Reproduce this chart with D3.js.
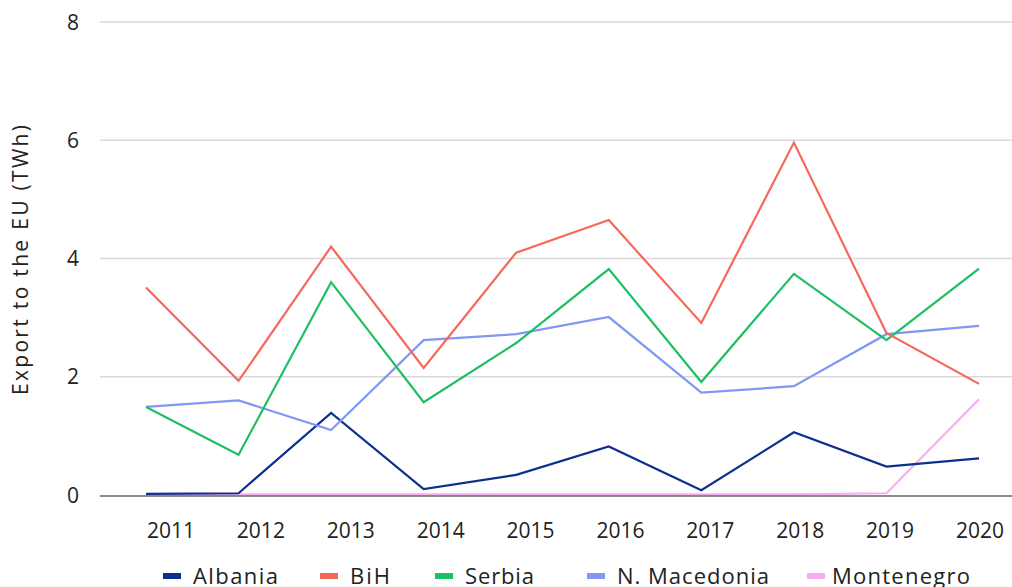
<!DOCTYPE html>
<html><head><meta charset="utf-8">
<script src="https://cdn.jsdelivr.net/npm/d3@7"></script>
<style>body{margin:0;background:#fff;}svg{display:block;font-family:"Open Sans",sans-serif;}</style>
</head><body><svg id="c" width="1012" height="587"></svg>
<script>
const years = [2011,2012,2013,2014,2015,2016,2017,2018,2019,2020];
const albania = [0.02,0.03,1.39,0.10,0.34,0.82,0.08,1.06,0.48,0.62];
const bih = [3.51,1.93,4.20,2.15,4.10,4.65,2.91,5.96,2.74,1.88];
const serbia = [1.49,0.68,3.60,1.57,2.57,3.82,1.91,3.74,2.62,3.83];
const macedonia = [1.49,1.60,1.10,2.62,2.72,3.01,1.73,1.84,2.72,2.86];
const montenegro = [0.01,0.01,0.01,0.01,0.01,0.01,0.01,0.01,0.03,1.62];
const yTicks = [0,2,4,6,8];
const seriesNames = ["Albania","BiH","Serbia","N. Macedonia","Montenegro"];
const seriesColors = ["#0f2f8f","#f4695a","#1dbf63","#8098f4","#f6aef0"];
const seriesData = [albania,bih,serbia,macedonia,montenegro];

const svg = d3.select("#c");
const x = d3.scalePoint().domain(years).range([146,979]);
const xLab = d3.scalePoint().domain(years).range([171,980]);
const y = d3.scaleLinear().domain([0,8]).range([495,22]);

// grid
svg.append("g").selectAll("line").data(yTicks.filter(d=>d>0)).join("line")
  .attr("x1",100).attr("x2",1012).attr("y1",d=>y(d)).attr("y2",d=>y(d))
  .attr("stroke","#d9d9d9").attr("stroke-width",1.5);

// y tick labels
svg.append("g").selectAll("text").data(yTicks).join("text")
  .attr("x",79).attr("y",d=>y(d)).attr("dy","0.36em").attr("text-anchor","end")
  .attr("font-size",21).attr("fill","#222").text(d=>d);

// x tick labels
svg.append("g").selectAll("text").data(years).join("text")
  .attr("x",d=>xLab(d)).attr("y",530).attr("dy","0.36em").attr("text-anchor","middle")
  .attr("font-size",21).attr("fill","#222").text(d=>d);

// y label
svg.append("text").attr("transform","translate(28,260) rotate(-90)")
  .attr("text-anchor","middle").attr("font-size",21).attr("fill","#222")
  .attr("textLength",270).attr("lengthAdjust","spacing")
  .text("Export to the EU (TWh)");

// lines
const line = d3.line().x((d,i)=>x(years[i])).y(d=>y(d));
const order = [4,0,3,2,1];
svg.append("g").selectAll("path").data(order).join("path")
  .attr("d",i=>line(seriesData[i])).attr("fill","none")
  .attr("stroke",i=>seriesColors[i]).attr("stroke-width",2.2)
  .attr("stroke-linejoin","miter");

// baseline
svg.append("line").attr("x1",100).attr("x2",1012).attr("y1",y(0)+1).attr("y2",y(0)+1)
  .attr("stroke","#666").attr("stroke-width",1.5);

// legend
const legX = [163,320,435,587,807];
const legW = [85,40,69,152,138];
const lg = svg.append("g").selectAll("g").data(seriesNames).join("g")
  .attr("transform",(d,i)=>`translate(${legX[i]},576)`);
lg.append("rect").attr("x",0).attr("y",-3).attr("width",18).attr("height",6)
  .attr("fill",(d,i)=>seriesColors[i]);
lg.append("text").attr("x",(d,i)=>i===4?25:30).attr("y",8).attr("font-size",22).attr("fill","#222")
  .attr("textLength",(d,i)=>legW[i]).attr("lengthAdjust","spacing").text(d=>d);
</script></body></html>
